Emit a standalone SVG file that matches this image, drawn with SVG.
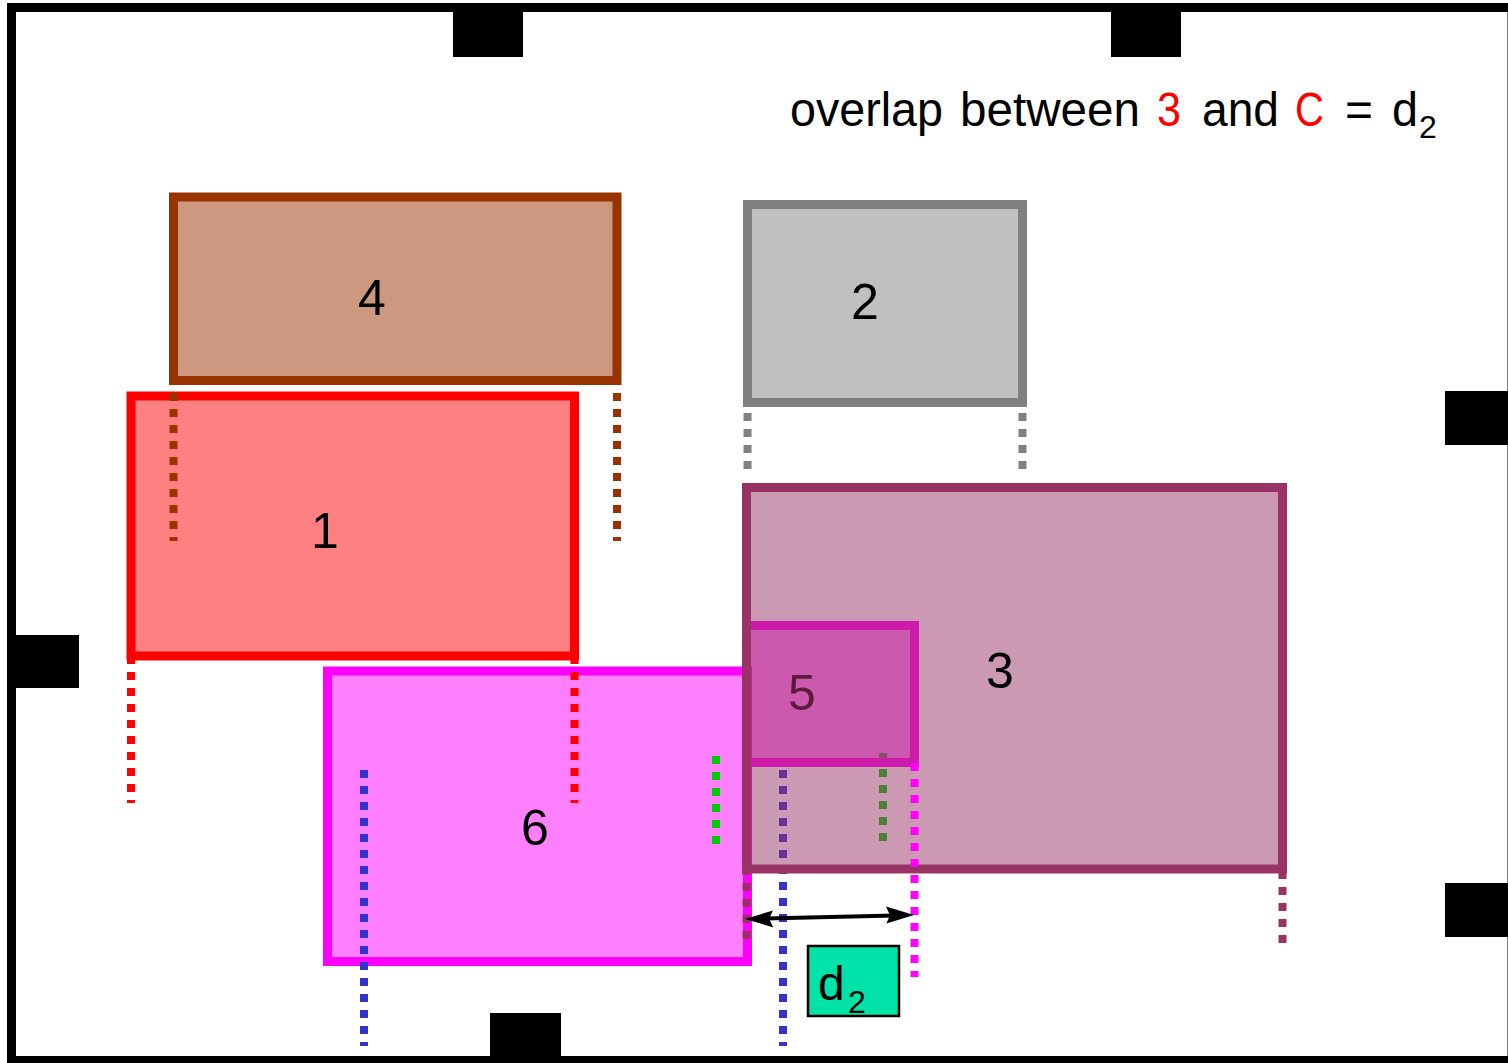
<svg xmlns="http://www.w3.org/2000/svg" width="1508" height="1063" viewBox="0 0 1508 1063">
  <style>
    .box { stroke-width: 9; }
    .lbl { font-family: "Liberation Sans", Arial, sans-serif; font-size: 50px; text-anchor: middle; fill: #000; }
    .title { font-family: "Liberation Sans Narrow", "Liberation Sans", Arial, sans-serif; font-size: 48px; fill: #000; }
    .guide { stroke-width: 8; stroke-dasharray: 8 8; fill: none; }
    .port { fill: #000; }
    .head { fill: #000; }
  </style>

  <!-- outer frame and ports -->
  <g id="frame">
    <rect x="11.5" y="7.5" width="1500.5" height="1053" fill="#fff" stroke="#000" stroke-width="9"/>
    <rect class="port" x="453" y="3" width="70" height="54"/>
    <rect class="port" x="1111" y="3" width="70" height="54"/>
    <rect class="port" x="1445" y="391" width="63" height="54"/>
    <rect class="port" x="1445" y="883" width="63" height="54"/>
    <rect class="port" x="10" y="635" width="69" height="53"/>
    <rect class="port" x="490" y="1013" width="71" height="48"/>
  </g>

  <g id="node-4">
    <rect class="box" x="173.5" y="197" width="443.5" height="183.5" fill="#CC9980" stroke="#993300"/>
    <text class="lbl" x="372" y="315">4</text>
  </g>

  <g id="node-2">
    <rect class="box" x="747.5" y="204.5" width="275" height="198" fill="#C0C0C0" stroke="#808080"/>
    <text class="lbl" x="865" y="319">2</text>
  </g>

  <g id="node-1">
    <rect class="box" x="131" y="396" width="443.5" height="260" fill="#FF8080" stroke="#FF0000"/>
    <text class="lbl" x="325" y="548">1</text>
  </g>

  <g id="node-6">
    <rect class="box" x="327.5" y="671" width="420" height="290.5" fill="#FF80FF" stroke="#FF00FF"/>
    <text class="lbl" x="535" y="845">6</text>
  </g>

  <!-- extension guides of the box edges -->
  <g id="connectors">
    <line class="guide" x1="173.5" y1="393" x2="173.5" y2="541" stroke="#993300"/>
    <line class="guide" x1="617" y1="393" x2="617" y2="541" stroke="#993300"/>
    <line class="guide" x1="747.5" y1="413" x2="747.5" y2="469" stroke="#808080"/>
    <line class="guide" x1="1022.5" y1="413" x2="1022.5" y2="469" stroke="#808080"/>
    <line class="guide" x1="131" y1="656" x2="131" y2="803" stroke="#FF0000"/>
    <line class="guide" x1="574.5" y1="656" x2="574.5" y2="803" stroke="#FF0000"/>
    <line class="guide" x1="364" y1="770" x2="364" y2="1046" stroke="#3333CC"/>
    <line class="guide" x1="783" y1="770" x2="783" y2="1046" stroke="#3333CC"/>
    <line class="guide" x1="716" y1="756" x2="716" y2="844" stroke="#00CC00"/>
    <line class="guide" x1="883" y1="753" x2="883" y2="841" stroke="#00CC00"/>
  </g>

  <g id="node-3">
    <rect x="746.5" y="487.5" width="536" height="381.5" fill="#993366" fill-opacity="0.5"/>
  </g>

  <g id="node-5">
    <rect x="751" y="625.5" width="163.5" height="137" fill="#CC1AA8" fill-opacity="0.5"/>
    <path class="box" d="M742,625.5 H914.5 V762.5 H742" fill="none" stroke="#CC1AAA"/>
    <text class="lbl" x="802" y="710" style="fill:#5C1A3D">5</text>
  </g>

  <g id="node-3-outline">
    <rect class="box" x="746.5" y="487.5" width="536" height="381.5" fill="none" stroke="#993366"/>
    <text class="lbl" x="1000" y="688">3</text>
  </g>

  <g id="connectors-front">
    <line class="guide" x1="914.5" y1="763" x2="914.5" y2="977" stroke="#FF00FF"/>
    <line class="guide" x1="746.5" y1="867" x2="746.5" y2="939" stroke="#993366"/>
    <line class="guide" x1="1282.5" y1="871" x2="1282.5" y2="943" stroke="#993366"/>
    <!-- double-headed dimension arrow for d2 -->
    <line x1="765" y1="918.5" x2="895" y2="915.4" stroke="#000" stroke-width="4"/>
    <polygon class="head" points="745,919 773,910.4 769,918.8 773.4,927.4"/>
    <polygon class="head" points="914,915 886,906.6 890,915.2 886.4,923.6"/>
  </g>

  <g id="d2-label">
    <rect x="808" y="946" width="91" height="70" fill="#00E3A8" stroke="#000" stroke-width="2.5"/>
    <text x="818" y="1000" font-family="Liberation Sans, Arial, sans-serif" font-size="48" fill="#000">d</text>
    <text x="848" y="1013" font-family="Liberation Sans, Arial, sans-serif" font-size="32" fill="#000">2</text>
  </g>

  <g id="title">
    <text class="title" x="790" y="126" textLength="153" lengthAdjust="spacingAndGlyphs">overlap</text>
    <text class="title" x="960" y="126" textLength="180" lengthAdjust="spacingAndGlyphs">between</text>
    <text class="title" x="1157" y="126" textLength="24" lengthAdjust="spacingAndGlyphs" style="fill:#FF0000">3</text>
    <text class="title" x="1202" y="126" textLength="77" lengthAdjust="spacingAndGlyphs">and</text>
    <text class="title" x="1295" y="126" textLength="29" lengthAdjust="spacingAndGlyphs" style="fill:#FF0000">C</text>
    <text class="title" x="1345" y="126" textLength="28" lengthAdjust="spacingAndGlyphs">=</text>
    <text class="title" x="1392" y="126" textLength="26" lengthAdjust="spacingAndGlyphs">d</text>
    <text class="title" x="1419" y="138" style="font-size:32px">2</text>
  </g>
</svg>
